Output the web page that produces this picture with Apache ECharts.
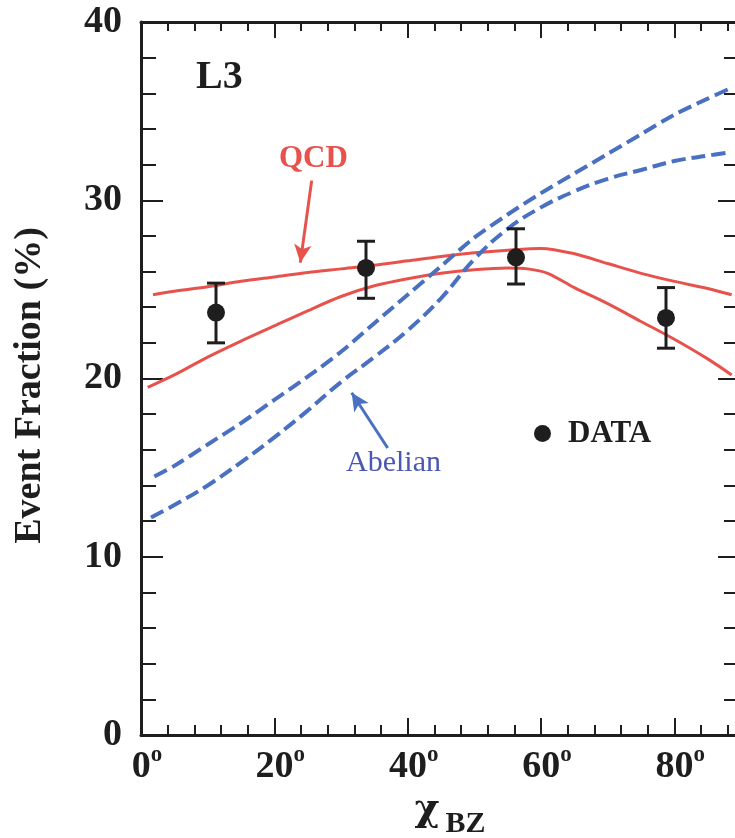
<!DOCTYPE html>
<html>
<head>
<meta charset="utf-8">
<script src="https://cdn.jsdelivr.net/npm/echarts@6/dist/echarts.min.js"></script>
<style>
html,body{margin:0;padding:0;background:#fff;}
#chart{width:735px;height:838px;}
</style>
</head>
<body>
<div id="chart"></div>
<script>
// ---- data ----
const xTickValues = [0, 20, 40, 60, 80];
const yTickValues = [0, 10, 20, 30, 40];

// measured data points: [angle, value, low, high]
const dataX = [11.25, 33.75, 56.25, 78.75];
const dataY = [23.7, 26.2, 26.8, 23.4];
const dataLow = [22.0, 24.5, 25.3, 21.7];
const dataHigh = [25.35, 27.7, 28.4, 25.1];

// QCD predictions (two solid curves)
const qcdUpper = [[1.8,24.7],[5,24.9],[10,25.15],[15,25.45],[20,25.7],[25,25.95],[30,26.15],[35,26.35],[40,26.6],[45,26.85],[50,27.05],[55,27.2],[60,27.3],[65,27.0],[70,26.45],[75,25.9],[80,25.45],[85,25.05],[88.6,24.7]];
const qcdLower = [[1,19.5],[5,20.2],[10,21.2],[15,22.1],[20,22.95],[25,23.8],[30,24.6],[35,25.2],[40,25.6],[45,25.9],[50,26.1],[55,26.2],[58,26.15],[61,25.9],[65,25.1],[70,24.2],[75,23.2],[80,22.2],[85,21.1],[88.6,20.2]];

// Abelian predictions (two dashed curves)
const abelUpper = [[2,14.5],[5,15.1],[10,16.3],[15,17.5],[20,18.8],[25,20.1],[30,21.5],[35,23.1],[40,24.7],[45,26.3],[50,27.9],[55,29.2],[60,30.4],[65,31.5],[70,32.6],[75,33.7],[80,34.8],[85,35.7],[88.5,36.3]];
const abelLower = [[1.5,12.2],[5,12.9],[10,14.0],[15,15.3],[20,16.7],[25,18.2],[30,19.8],[35,21.2],[40,22.7],[45,24.5],[50,26.7],[55,28.4],[60,29.6],[65,30.5],[70,31.2],[75,31.7],[80,32.2],[85,32.5],[88.5,32.7]];

// annotation arrows (data coords): [from, to]
const qcdArrow = [[25.6,31.1],[23.9,26.5]];
const abelArrow = [[37.0,16.1],[31.6,19.2]];

// ---- chart ----
const RED = '#e8524c';
const BLUE = '#4a70c2';
const TXT_BLUE = '#4b57b4';
const INK = '#1e1e1e';
const SERIF = '"Liberation Serif", "DejaVu Serif", serif';

const chart = echarts.init(document.getElementById('chart'), null, {renderer:'canvas'});

const points = dataX.map((x,i)=>[x, dataY[i]]);
const bars = dataX.map((x,i)=>[x, dataLow[i], dataHigh[i]]);

const axisLine = {show:true, onZero:false, lineStyle:{color:INK, width:3}};
const tickStyle = {color:INK, width:2};

const option = {
  animation:false,
  backgroundColor:'#fff',
  grid:{left:141, top:22, right:-6, bottom:103, containLabel:false, outerBoundsMode:'none'},
  legend:{
    data:['DATA'], left:529, top:413, icon:'circle', itemWidth:17, itemHeight:17,
    textStyle:{fontFamily:SERIF, fontWeight:'bold', fontSize:31, color:INK, padding:[0,0,0,12]},
    selectedMode:false
  },
  xAxis:[{
    type:'value', min:0, max:90, interval:20, position:'bottom',
    axisLine:axisLine,
    splitLine:{show:false},
    axisTick:{show:true, inside:true, length:17, lineStyle:tickStyle},
    minorTick:{show:true, splitNumber:5, length:10, lineStyle:tickStyle},
    axisLabel:{
      margin:9, customValues:xTickValues,
      formatter:v=>'{n|'+v+'}{d|o}',
      rich:{
        n:{fontFamily:SERIF, fontWeight:'bold', fontSize:38, color:INK, lineHeight:46, padding:[0,0,0,12]},
        d:{fontFamily:SERIF, fontWeight:'bold', fontSize:23, color:INK, lineHeight:18, verticalAlign:'top'}
      }
    },
    name:'{c|χ}{s|BZ}', nameLocation:'middle', nameGap:45,
    nameTextStyle:{
      rich:{
        c:{fontFamily:'"DejaVu Serif", serif', fontWeight:'bold', fontSize:38, color:INK, padding:[0,0,0,18]},
        s:{fontFamily:SERIF, fontWeight:'bold', fontSize:30, color:INK, padding:[28,0,0,6]}
      }
    }
  },{
    type:'value', min:0, max:90, interval:20, position:'top',
    axisLine:axisLine, splitLine:{show:false},
    axisTick:{show:true, inside:true, length:16, lineStyle:tickStyle},
    minorTick:{show:true, splitNumber:5, length:9, lineStyle:tickStyle},
    axisLabel:{show:false}
  }],
  yAxis:[{
    type:'value', min:0, max:40, interval:10, position:'left',
    axisLine:axisLine, splitLine:{show:false},
    axisTick:{show:true, inside:true, length:22, lineStyle:tickStyle},
    minorTick:{show:true, splitNumber:5, length:15, lineStyle:tickStyle},
    axisLabel:{margin:19, fontFamily:SERIF, fontWeight:'bold', fontSize:38, color:INK, customValues:yTickValues},
    name:'Event Fraction (%)', nameLocation:'middle', nameGap:92, nameRotate:90,
    nameTextStyle:{fontFamily:SERIF, fontWeight:'bold', fontSize:38, color:INK, padding:[0,14,0,0]}
  },{
    type:'value', min:0, max:40, interval:10, position:'right',
    axisLine:axisLine, splitLine:{show:false},
    axisTick:{show:true, inside:true, length:23, lineStyle:tickStyle},
    minorTick:{show:true, splitNumber:5, length:17, lineStyle:tickStyle},
    axisLabel:{show:false}
  }],
  graphic:[
    {type:'text', left:196, top:58, silent:true,
     style:{text:'L3', font:'bold 40px '+SERIF, fill:INK}},
    {type:'text', left:279, top:143, silent:true,
     style:{text:'QCD', font:'bold 31px '+SERIF, fill:RED}},
    {type:'text', left:346, top:448, silent:true,
     style:{text:'Abelian', font:'30px '+SERIF, fill:TXT_BLUE}}
  ],
  series:[
    {type:'line', name:'QCD upper', data:qcdUpper, smooth:0.3, showSymbol:false, symbol:'none',
     lineStyle:{color:RED, width:3}, z:3,
     markLine:{silent:true, symbol:['none','arrow'], symbolSize:[13,18],
       lineStyle:{color:RED, width:3, type:'solid'}, label:{show:false},
       data:[[{coord:qcdArrow[0]},{coord:qcdArrow[1]}]]}},
    {type:'line', name:'QCD lower', data:qcdLower, smooth:0.3, showSymbol:false, symbol:'none',
     lineStyle:{color:RED, width:3}, z:3},
    {type:'line', name:'Abelian upper', data:abelUpper, smooth:0.3, showSymbol:false, symbol:'none',
     lineStyle:{color:BLUE, width:4, type:[14,6]}, z:3,
     markLine:{silent:true, symbol:['none','arrow'], symbolSize:[13,18],
       lineStyle:{color:BLUE, width:3, type:'solid'}, label:{show:false},
       data:[[{coord:abelArrow[0]},{coord:abelArrow[1]}]]}},
    {type:'line', name:'Abelian lower', data:abelLower, smooth:0.4, showSymbol:false, symbol:'none',
     lineStyle:{color:BLUE, width:4, type:[14,6]}, z:3},
    {type:'custom', name:'errors', data:bars, z:4,
     encode:{x:0, y:[1,2]},
     renderItem:function(params, api){
       const x = api.value(0);
       const lo = api.coord([x, api.value(1)]);
       const hi = api.coord([x, api.value(2)]);
       const w = 9;
       const st = {stroke:INK, lineWidth:3};
       return {type:'group', children:[
         {type:'line', shape:{x1:lo[0], y1:lo[1], x2:hi[0], y2:hi[1]}, style:st},
         {type:'line', shape:{x1:lo[0]-w, y1:lo[1], x2:lo[0]+w, y2:lo[1]}, style:st},
         {type:'line', shape:{x1:hi[0]-w, y1:hi[1], x2:hi[0]+w, y2:hi[1]}, style:st}
       ]};
     }},
    {type:'scatter', name:'DATA', data:points, symbol:'circle', symbolSize:18,
     itemStyle:{color:INK, opacity:1}, z:5}
  ]
};
chart.setOption(option);
</script>
</body>
</html>
